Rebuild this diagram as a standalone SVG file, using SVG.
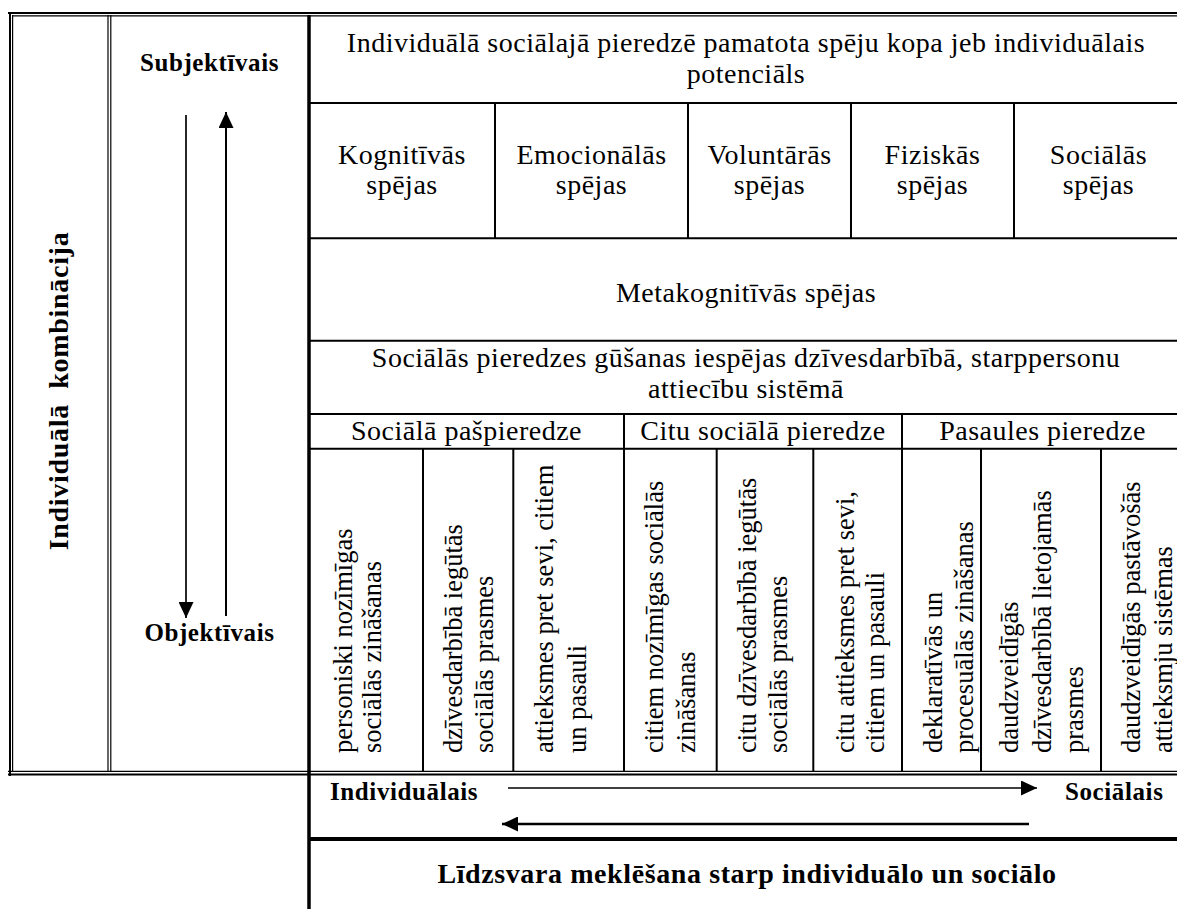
<svg xmlns="http://www.w3.org/2000/svg" width="1177" height="909" viewBox="0 0 1177 909">
<style>
text{font-family:"Liberation Serif","Times New Roman",serif;fill:#000}
.t{font-size:28px;letter-spacing:0.5px;text-anchor:middle}
.v{font-size:26.5px}
.b{font-size:25px;font-weight:bold;letter-spacing:0.6px}
.bm{text-anchor:middle}
.ln{stroke:#000;stroke-width:2;fill:none}
.thin{stroke:#000;stroke-width:1.2;fill:none}
.thick{stroke:#000;stroke-width:3.5;fill:none}
.arr{stroke:#000;fill:none}
</style>
<defs>
<marker id="ah" viewBox="0 0 16 15" refX="16" refY="7.5" markerWidth="16" markerHeight="15" markerUnits="userSpaceOnUse" orient="auto">
<path d="M0,0 L16,7.5 L0,15 Z" fill="#000"/>
</marker>
</defs>
<rect width="1177" height="909" fill="#fff"/>

<g id="grid">
<!-- outer double borders -->
<line class="ln" x1="8" y1="13" x2="1177" y2="13"/>
<line class="thin" x1="12" y1="15.8" x2="1177" y2="15.8"/>
<line class="ln" x1="10" y1="12" x2="10" y2="776"/>
<line class="thin" x1="12.6" y1="15" x2="12.6" y2="772"/>
<line class="thin" x1="8" y1="771.3" x2="1177" y2="771.3"/>
<line class="ln" x1="8" y1="774.6" x2="1177" y2="774.6"/>
<!-- column divider double -->
<line class="thin" x1="108" y1="15" x2="108" y2="771"/>
<line class="thin" x1="110.8" y1="15" x2="110.8" y2="771"/>
<!-- thick left line of right block -->
<line class="thick" x1="309" y1="15" x2="309" y2="909"/>
<!-- right block rows -->
<line class="ln" x1="309" y1="103" x2="1177" y2="103"/>
<line class="ln" x1="309" y1="238.3" x2="1177" y2="238.3"/>
<line class="ln" x1="309" y1="340.7" x2="1177" y2="340.7"/>
<line class="ln" x1="309" y1="414" x2="1177" y2="414"/>
<line class="ln" x1="309" y1="448.7" x2="1177" y2="448.7"/>
<!-- capability dividers -->
<line class="ln" x1="495" y1="103" x2="495" y2="238.3"/>
<line class="ln" x1="688" y1="103" x2="688" y2="238.3"/>
<line class="ln" x1="851" y1="103" x2="851" y2="238.3"/>
<line class="ln" x1="1014" y1="103" x2="1014" y2="238.3"/>
<!-- group dividers -->
<line class="ln" x1="624" y1="414" x2="624" y2="771"/>
<line class="ln" x1="902" y1="414" x2="902" y2="771"/>
<!-- leaf dividers -->
<line class="ln" x1="423" y1="448.7" x2="423" y2="771"/>
<line class="ln" x1="513.3" y1="448.7" x2="513.3" y2="771"/>
<line class="ln" x1="716.7" y1="448.7" x2="716.7" y2="771"/>
<line class="ln" x1="813.3" y1="448.7" x2="813.3" y2="771"/>
<line class="ln" x1="981" y1="448.7" x2="981" y2="771"/>
<line class="ln" x1="1101" y1="448.7" x2="1101" y2="771"/>
<!-- bottom block separator -->
<line x1="309" y1="839" x2="1177" y2="839" stroke="#000" stroke-width="4"/>
</g>

<g id="label-individuala-kombinacija">
<text class="b bm" xml:space="preserve" style="font-size:28px;letter-spacing:0.7px" transform="translate(68,391) rotate(-90)">Individuālā  kombinācija</text>
</g>
<g id="axis-subjektivais"><text class="b bm" x="209.5" y="71">Subjektīvais</text></g>
<g id="axis-objektivais"><text class="b bm" x="209.5" y="641">Objektīvais</text></g>

<g id="cell-potencials">
<text class="t" x="746" y="52">Individuālā sociālajā pieredzē pamatota spēju kopa jeb individuālais</text>
<text class="t" x="746" y="82.5">potenciāls</text>
</g>
<g id="cell-kognitivas"><text class="t" x="402" y="164">Kognitīvās</text><text class="t" x="402" y="194">spējas</text></g>
<g id="cell-emocionalas"><text class="t" x="591.5" y="164">Emocionālās</text><text class="t" x="591.5" y="194">spējas</text></g>
<g id="cell-voluntaras"><text class="t" x="769.5" y="164">Voluntārās</text><text class="t" x="769.5" y="194">spējas</text></g>
<g id="cell-fiziskas"><text class="t" x="932.5" y="164">Fiziskās</text><text class="t" x="932.5" y="194">spējas</text></g>
<g id="cell-socialas"><text class="t" x="1098.5" y="164">Sociālās</text><text class="t" x="1098.5" y="194">spējas</text></g>
<g id="cell-metakognitivas"><text class="t" x="746" y="302">Metakognitīvās spējas</text></g>
<g id="cell-iespejas">
<text class="t" x="746" y="367">Sociālās pieredzes gūšanas iespējas dzīvesdarbībā, starppersonu</text>
<text class="t" x="746" y="398">attiecību sistēmā</text>
</g>
<g id="head-paspieredze"><text class="t" x="466.5" y="440">Sociālā pašpieredze</text></g>
<g id="head-citu"><text class="t" x="763" y="440">Citu sociālā pieredze</text></g>
<g id="head-pasaules"><text class="t" x="1042.5" y="440">Pasaules pieredze</text></g>

<g id="leaf-1"><text class="v" transform="translate(352,753) rotate(-90)">personiski nozīmīgas</text><text class="v" transform="translate(381,753) rotate(-90)">sociālās zināšanas</text></g>
<g id="leaf-2"><text class="v" transform="translate(462,753) rotate(-90)">dzīvesdarbībā iegūtās</text><text class="v" transform="translate(493,753) rotate(-90)">sociālās prasmes</text></g>
<g id="leaf-3"><text class="v" transform="translate(553,753) rotate(-90)">attieksmes pret sevi, citiem</text><text class="v" transform="translate(586,753) rotate(-90)">un pasauli</text></g>
<g id="leaf-4"><text class="v" transform="translate(663,753) rotate(-90)">citiem nozīmīgas sociālās</text><text class="v" transform="translate(695,753) rotate(-90)">zināšanas</text></g>
<g id="leaf-5"><text class="v" transform="translate(756,753) rotate(-90)">citu dzīvesdarbībā iegūtās</text><text class="v" transform="translate(787,753) rotate(-90)">sociālās prasmes</text></g>
<g id="leaf-6"><text class="v" transform="translate(854,753) rotate(-90)">citu attieksmes pret sevi,</text><text class="v" transform="translate(884,753) rotate(-90)">citiem un pasauli</text></g>
<g id="leaf-7"><text class="v" transform="translate(942,753) rotate(-90)">deklaratīvās un</text><text class="v" transform="translate(973,753) rotate(-90)">procesuālās zināšanas</text></g>
<g id="leaf-8"><text class="v" transform="translate(1018,753) rotate(-90)">daudzveidīgās</text><text class="v" transform="translate(1051,753) rotate(-90)">dzīvesdarbībā lietojamās</text><text class="v" transform="translate(1083,753) rotate(-90)">prasmes</text></g>
<g id="leaf-9"><text class="v" transform="translate(1140,753) rotate(-90)">daudzveidīgās pastāvošās</text><text class="v" transform="translate(1172,753) rotate(-90)">attieksmju sistēmas</text></g>

<g id="axis-individualais"><text class="b" x="330" y="800">Individuālais</text></g>
<g id="axis-socialais"><text class="b" x="1065" y="800">Sociālais</text></g>
<g id="balance"><text class="b bm" style="font-size:28px" x="747" y="883">Līdzsvara meklēšana starp individuālo un sociālo</text></g>

<g id="connectors">
<line class="arr" stroke-width="1.7" x1="186" y1="115" x2="186" y2="618" marker-end="url(#ah)"/>
<line class="arr" stroke-width="2" x1="226" y1="616" x2="226" y2="112" marker-end="url(#ah)"/>
<line class="arr" stroke-width="1.5" x1="508" y1="788" x2="1037" y2="788" marker-end="url(#ah)"/>
<line class="arr" stroke-width="2.5" x1="1029" y1="824" x2="502" y2="824" marker-end="url(#ah)"/>
</g>
</svg>
